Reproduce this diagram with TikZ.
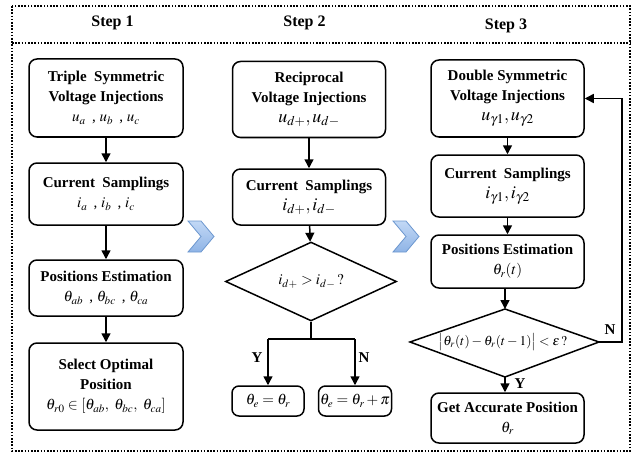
\documentclass[tikz,border=0pt]{standalone}
\usepackage{mathptmx}
\usepackage{fontspec}
\setmainfont{Liberation Serif}
\usetikzlibrary{shapes.geometric,arrows.meta}
\definecolor{chevfill}{HTML}{C2D8F5}
\definecolor{chevfill2}{HTML}{8FB4E6}
\definecolor{chevline}{HTML}{6C97CF}
\tikzset{
  box/.style={draw, rounded corners=8pt, line width=1.5pt, align=center, inner sep=1pt,
    font=\bfseries\fontsize{15}{20}\selectfont},
  mathbox/.style={draw, rounded corners=7pt, line width=1.5pt, align=center, inner sep=1pt,
    font=\fontsize{15}{18}\selectfont},
  dia/.style={draw, diamond, line width=1.5pt, inner sep=0pt, align=center,
    font=\fontsize{15}{18}\selectfont},
  arr/.style={-{Triangle[length=9pt,width=9pt]}, line width=1.5pt},
  ln/.style={line width=1.5pt},
  steplabel/.style={font=\bfseries\fontsize{16}{18}\selectfont},
  yn/.style={font=\bfseries\fontsize{15}{17}\selectfont},
  chev/.style={draw=chevline, line width=0.8pt, top color=chevfill, bottom color=chevfill2, line join=miter},
  frame/.style={line width=1.6pt, dash pattern=on 1.6pt off 1.6pt}
}
\begin{document}
\begin{tikzpicture}[x=1pt,y=-1pt]
\useasboundingbox (0,0) rectangle (638,460);
% frame
\draw[frame] (12,6) rectangle (630,451);
\draw[frame] (12,43) -- (630,43);
\node[steplabel] (s1) at (112.5,23) {Step 1};
\node[steplabel] (s2) at (304.5,23) {Step 2};
\node[steplabel] (s3) at (506,26) {Step 3};
% column 1
\node[box, minimum width=154pt, minimum height=78pt] (a1) at (106,98)
  {Triple\ \ Symmetric\\Voltage Injections\\{\mdseries$u_a$\,\ ,\ $u_b$\,\ ,\ $u_c$}};
\node[box, minimum width=154pt, minimum height=62pt] (a2) at (106,194)
  {Current\ \ Samplings\\{\mdseries$i_a$\,\ ,\ $i_b$\,\ ,\ $i_c$}};
\node[box, minimum width=154pt, minimum height=56pt] (a3) at (106,288)
  {Positions Estimation\\{\mdseries$\theta_{ab}$\,\ ,\ $\theta_{bc}$\,\ ,\ $\theta_{ca}$}};
\node[box, minimum width=154pt, minimum height=87pt] (a4) at (106,386.5)
  {Select Optimal\\Position\\{\mdseries$\theta_{r0}\in[\theta_{ab},\ \theta_{bc},\ \theta_{ca}]$}};
\draw[arr] (a1) -- (a2);
\draw[arr] (a2) -- (a3);
\draw[arr] (a3) -- (a4);
% column 2
\node[box, minimum width=153pt, minimum height=76pt] (b1) at (309,99.5)
  {Reciprocal\\Voltage Injections\\{\mdseries\fontsize{18}{20}\selectfont$u_{d+},u_{d-}$}};
\node[box, minimum width=153pt, minimum height=56pt] (b2) at (309,197)
  {Current\ \ Samplings\\{\mdseries\fontsize{18}{20}\selectfont$i_{d+},i_{d-}$}};
\node[dia, minimum width=171pt, minimum height=57pt] (d1) at (311,281.5)
  {$i_{d+}>i_{d-}\,?$};
\node[mathbox, minimum width=72pt, minimum height=30pt] (b3) at (268,401)
  {$\theta_e=\theta_r$};
\node[mathbox, minimum width=73pt, minimum height=30pt] (b4) at (355,401)
  {$\theta_e=\theta_r+\pi$};
\coordinate (br) at (311,339);
\coordinate (brl) at (268,339);
\coordinate (brr) at (355,339);
\draw[arr] (b1) -- (b2);
\draw[arr] (b2) -- (d1);
\draw[ln] (d1.south) -- (br);
\draw[ln] (brl) -- (brr);
\draw[arr] (brl) -- (b3);
\draw[arr] (brr) -- (b4);
\node[yn] (y1) at (257,358) {Y};
\node[yn] (n1) at (364,358) {N};
% column 3
\node[box, minimum width=153pt, minimum height=77pt] (c1) at (507.5,98.5)
  {Double Symmetric\\Voltage Injections\\{\mdseries\fontsize{18}{20}\selectfont$u_{\gamma1},u_{\gamma2}$}};
\node[box, minimum width=153pt, minimum height=62pt] (c2) at (507.5,186)
  {Current\ \ Samplings\\{\mdseries\fontsize{18}{20}\selectfont$i_{\gamma1},i_{\gamma2}$}};
\node[box, minimum width=153pt, minimum height=53pt] (c3) at (507.5,261.5)
  {Positions Estimation\\{\mdseries$\theta_r(t)$}};
\coordinate (d2t) at (505,309);
\coordinate (d2r) at (599,342);
\coordinate (d2b) at (505,377);
\coordinate (d2l) at (410,342);
\draw[ln, line join=miter] (d2t) -- (d2r) -- (d2b) -- (d2l) -- cycle;
\node[font=\fontsize{13.5}{16}\selectfont] (d2) at (503,342)
  {$\bigl|\theta_r(t)-\theta_r(t-1)\bigr|<\varepsilon\,?$};
\node[box, minimum width=153pt, minimum height=50pt] (c4) at (507.5,418)
  {Get Accurate Position\\{\mdseries$\theta_r$}};
\coordinate (fb1) at (622,342);
\coordinate (fb2) at (622,98.5);
\draw[arr] (c1) -- (c2);
\draw[arr] (c2) -- (c3);
\draw[arr] (c3.south -| d2t) -- (d2t);
\draw[arr] (d2b) -- (c4.north -| d2b);
\draw[arr] (d2r) -- (fb1) -- (fb2) -- (c1.east);
\node[yn] (n2) at (610,330) {N};
\node[yn] (y2) at (520,384) {Y};
% chevrons
\draw[chev] (188,221) -- (201,221) -- (214,236.5) -- (201,252) -- (188,252) -- (201,236.5) -- cycle;
\draw[chev] (393,221) -- (406,221) -- (419,236.5) -- (406,252) -- (393,252) -- (406,236.5) -- cycle;
\end{tikzpicture}
\end{document}
